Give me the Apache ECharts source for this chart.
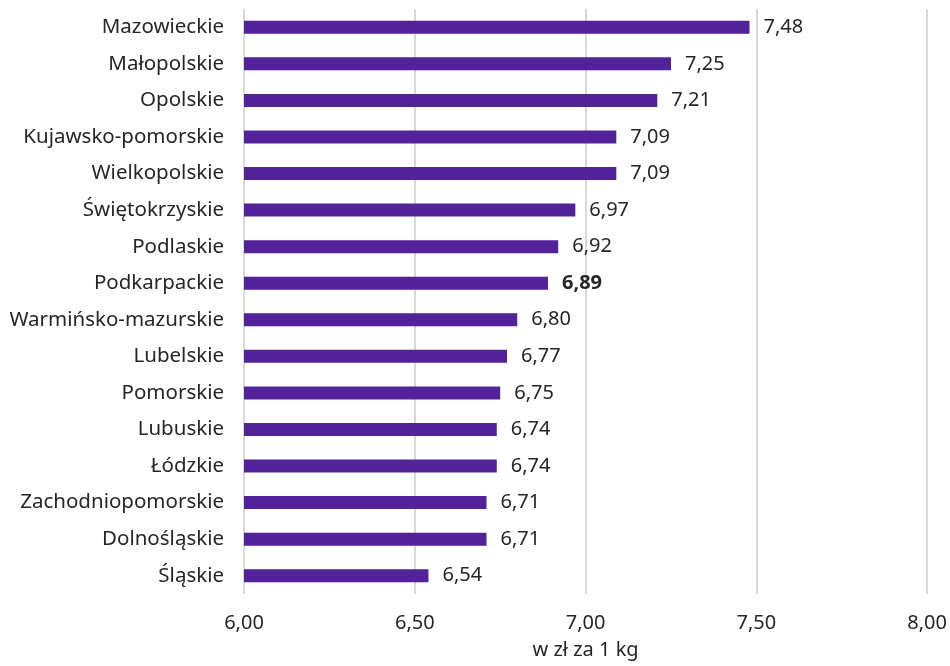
<!DOCTYPE html>
<html>
<head>
<meta charset="utf-8">
<script src="https://cdn.jsdelivr.net/npm/echarts@6/dist/echarts.min.js"></script>
<style>html,body{margin:0;padding:0;background:#fff;}#c{width:950px;height:666px;}</style>
</head>
<body>
<div id="c"></div>
<script>
const categories = ["Mazowieckie","Małopolskie","Opolskie","Kujawsko-pomorskie","Wielkopolskie","Świętokrzyskie","Podlaskie","Podkarpackie","Warmińsko-mazurskie","Lubelskie","Pomorskie","Lubuskie","Łódzkie","Zachodniopomorskie","Dolnośląskie","Śląskie"];
const values = [7.48,7.25,7.21,7.09,7.09,6.97,6.92,6.89,6.80,6.77,6.75,6.74,6.74,6.71,6.71,6.54];
const highlighted = "Podkarpackie";
const axisName = "w zł za 1 kg";
const fmt = v => v.toFixed(2).replace('.', ',');
const FONT = "'Noto Sans', sans-serif";
const chart = echarts.init(document.getElementById('c'));
chart.setOption({
  animation: false,
  textStyle: {fontFamily: FONT},
  grid: {left: 244, right: 22, top: 9, bottom: 72, containLabel: false},
  xAxis: {
    type: 'value', min: 6, max: 8, interval: 0.5,
    axisLine: {show: false}, axisTick: {show: false},
    splitLine: {show: true, lineStyle: {color: '#d9d9d9', width: 2}},
    axisLabel: {formatter: v => fmt(v), color: '#262626', fontSize: 20, margin: 19, fontFamily: FONT},
    name: axisName, nameLocation: 'middle', nameGap: 46,
    nameTextStyle: {color: '#262626', fontSize: 20, fontFamily: FONT}
  },
  yAxis: {
    type: 'category', data: categories, inverse: true,
    axisLine: {show: false}, axisTick: {show: false},
    axisLabel: {color: '#262626', fontSize: 20.5, margin: 20, fontFamily: FONT}
  },
  series: [{
    type: 'bar',
    data: values.map((v, i) => ({
      value: v,
      label: categories[i] === highlighted ? {fontWeight: 'bold'} : {}
    })),
    barWidth: 13,
    itemStyle: {color: '#522398'},
    label: {show: true, position: 'right', distance: 14, formatter: p => fmt(p.value), color: '#262626', fontSize: 20, fontFamily: FONT}
  }]
});
</script>
</body>
</html>
